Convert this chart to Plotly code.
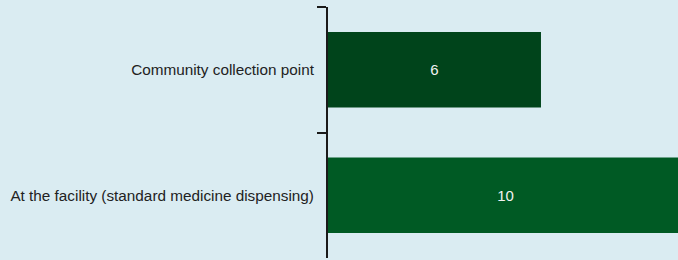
import plotly.graph_objects as go

categories = ["Community collection point", "At the facility (standard medicine dispensing)"]
values = [6, 10]
colors = ["#00441b", "#005a24"]
value_labels = ["6", "10"]

fig = go.Figure(go.Bar(
    y=categories,
    x=values,
    orientation="h",
    marker=dict(color=colors, line=dict(width=0)),
    text=value_labels,
    textposition="inside",
    insidetextanchor="middle",
    textfont=dict(family="Liberation Sans, Arial, sans-serif", size=15, color="#f2f2f2"),
    hoverinfo="skip",
))

fig.update_layout(
    width=678, height=260,
    margin=dict(l=328, r=0, t=7, b=2),
    paper_bgcolor="#daecf2",
    plot_bgcolor="#daecf2",
    bargap=0.4,
    showlegend=False,
    font=dict(family="Liberation Sans, Arial, sans-serif", size=15.3, color="#222222"),
)
fig.update_xaxes(range=[0, 9.86], visible=False, showgrid=False, zeroline=False)
fig.update_yaxes(
    autorange="reversed",
    type="category",
    showline=True, linecolor="#1a1a1a", linewidth=2,
    ticks="outside", tickson="boundaries", ticklen=9, tickwidth=2, tickcolor="#1a1a1a",
    ticklabelstandoff=9,
    showgrid=False,
    tickfont=dict(size=15.3, color="#222222"),
)

fig.write_html(
    "out.html",
    config={"displayModeBar": False},
    post_script="document.body.style.margin='0';document.body.style.padding='0';",
)
